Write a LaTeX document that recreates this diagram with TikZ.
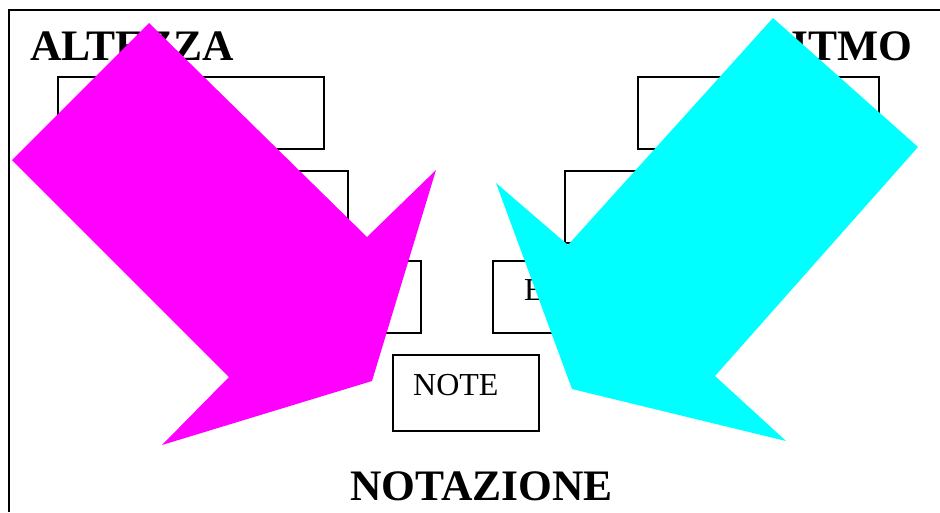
\documentclass[tikz,border=0pt]{standalone}
\usepackage{fontspec}
\setmainfont{Liberation Serif}
\usetikzlibrary{positioning}
\definecolor{ColorPitch}{RGB}{255,0,255}
\definecolor{ColorRhythm}{RGB}{0,255,255}
\tikzset{
	heading/.style={font=\fontsize{43.5}{50}\selectfont\bfseries, inner sep=0pt},
	boxtext/.style={font=\fontsize{32}{36}\selectfont, inner sep=0pt, anchor=base west},
	box/.style={rectangle, draw=black, line width=1.6pt, inner sep=0pt, anchor=north west},
	pitch/.style={fill=ColorPitch, draw=none},
	rhythm/.style={fill=ColorRhythm, draw=none},
}

\begin{document}
\begin{tikzpicture}[x=1pt,y=-1pt]
	\useasboundingbox (0,0) rectangle (940,512);
	\clip (0,0) rectangle (940,512);
	\draw [line width=1.6pt] (940,10) -- (9,10) -- (9,512);
	% titles
	\node (alt) [heading,anchor=base west] at (30,60) {ALTEZZA};
	\node (rit) [heading,anchor=base east] at (913,60) {RITMO};
	\node (nota) [heading,anchor=base west] at (350,500) {NOTAZIONE};
	% left column
	\node (a1) [box,minimum width=266pt,minimum height=72pt] at (57,76) {};
	\node (a2) [box,minimum width=217pt,minimum height=72pt] at (130,170) {};
	\node (a3) [box,minimum width=170pt,minimum height=72pt] at (250,260) {};
	% right column
	\node (r1) [box,minimum width=241pt,minimum height=72pt] at (637,76) {};
	\node (r2) [box,minimum width=236pt,minimum height=72pt] at (564,170) {};
	\node (r3) [box,minimum width=208pt,minimum height=72pt] at (492,260) {};
	\node (tE) [boxtext] at (524,300) {E};
	% bottom
	\node (note) [box,minimum width=146pt,minimum height=76pt] at (392,354) {};
	\node (tNote) [boxtext] at (413,395) {NOTE};
	% big arrows
	\fill [pitch] (149,23) -- (12,160) -- (229,377) -- (162,445) -- (372,381) -- (436,170) -- (367,237) -- cycle;
	\fill [rhythm] (773,18) -- (918,147) -- (715,376) -- (786,441) -- (572,389) -- (496,183) -- (568,245) -- cycle;
\end{tikzpicture}
\end{document}
